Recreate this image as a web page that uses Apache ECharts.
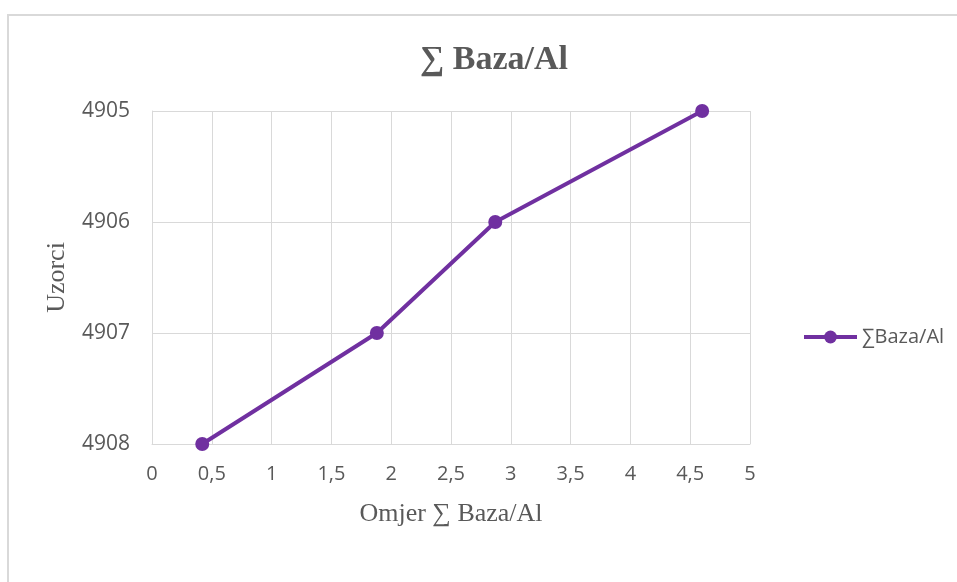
<!DOCTYPE html>
<html>
<head>
<meta charset="utf-8">
<script src="https://cdn.jsdelivr.net/npm/echarts@6/dist/echarts.min.js"></script>
<style>
    html, body { margin: 0; padding: 0; background: #ffffff; }
    #frame { position: absolute; left: 7px; top: 14px; width: 960px; height: 580px; border-top: 2px solid #d9d9d9; border-left: 2px solid #d9d9d9; }
    #chart { position: absolute; left: 0; top: 0; width: 957px; height: 582px; }
</style>
</head>
<body>
<div id="frame"></div>
<div id="chart"></div>
<script>
var seriesName = '∑Baza/Al';
var omjer = [0.42, 1.88, 2.87, 4.6];   // x vrijednosti
var uzorci = [4908, 4907, 4906, 4905]; // y vrijednosti
var xTicks = [0, 5, 0.5];              // min, max, interval
var yTicks = [4905, 4908, 1];

var points = [];
for (var i = 0; i < omjer.length; i++) {
    points.push([omjer[i], uzorci[i]]);
}

function echart() {
    var myChart = echarts.init(document.getElementById('chart'));
    var option = {
        animation: false,
        title: {
            text: '∑ Baza/Al',
            left: 489,
            textAlign: 'center',
            top: 38,
            textStyle: {
                fontFamily: 'Liberation Serif',
                fontWeight: 'bold',
                fontSize: 34,
                color: '#595959'
            }
        },
        legend: {
            data: [seriesName],
            left: 797,
            top: 322,
            itemWidth: 53,
            itemHeight: 16,
            itemGap: 4,
            lineStyle: { width: 4 },
            textStyle: {
                fontFamily: 'Open Sans',
                fontSize: 20,
                color: '#595959'
            }
        },
        grid: {
            left: 152,
            top: 111,
            width: 598,
            height: 333
        },
        xAxis: {
            type: 'value',
            min: xTicks[0],
            max: xTicks[1],
            interval: xTicks[2],
            name: 'Omjer ∑ Baza/Al',
            nameLocation: 'middle',
            nameGap: 57,
            nameTextStyle: {
                fontFamily: 'Liberation Serif',
                fontSize: 26,
                color: '#595959'
            },
            axisLine: { show: true, lineStyle: { color: '#d9d9d9', width: 1 } },
            axisTick: { show: false },
            axisLabel: {
                margin: 20,
                fontFamily: 'Open Sans',
                fontSize: 20,
                color: '#595959',
                formatter: function (v) { return String(v).replace('.', ','); }
            },
            splitLine: { show: true, lineStyle: { color: '#d9d9d9', width: 1 } }
        },
        yAxis: {
            type: 'value',
            inverse: true,
            min: yTicks[0],
            max: yTicks[1],
            interval: yTicks[2],
            name: 'Uzorci',
            nameLocation: 'middle',
            nameGap: 82,
            nameRotate: 90,
            nameTextStyle: {
                fontFamily: 'Liberation Serif',
                fontSize: 26,
                color: '#595959'
            },
            axisLine: { show: true, lineStyle: { color: '#d9d9d9', width: 1 } },
            axisTick: { show: false },
            axisLabel: {
                margin: 22,
                fontFamily: 'Open Sans',
                fontSize: 21,
                color: '#595959',
                formatter: function (v) { return String(v); }
            },
            splitLine: { show: true, lineStyle: { color: '#d9d9d9', width: 1 } }
        },
        series: [{
            name: seriesName,
            type: 'line',
            data: points,
            symbol: 'circle',
            symbolSize: 14,
            lineStyle: { color: '#7030a0', width: 4 },
            itemStyle: { color: '#7030a0' }
        }]
    };
    myChart.setOption(option);
}

echart();
</script>
</body>
</html>
